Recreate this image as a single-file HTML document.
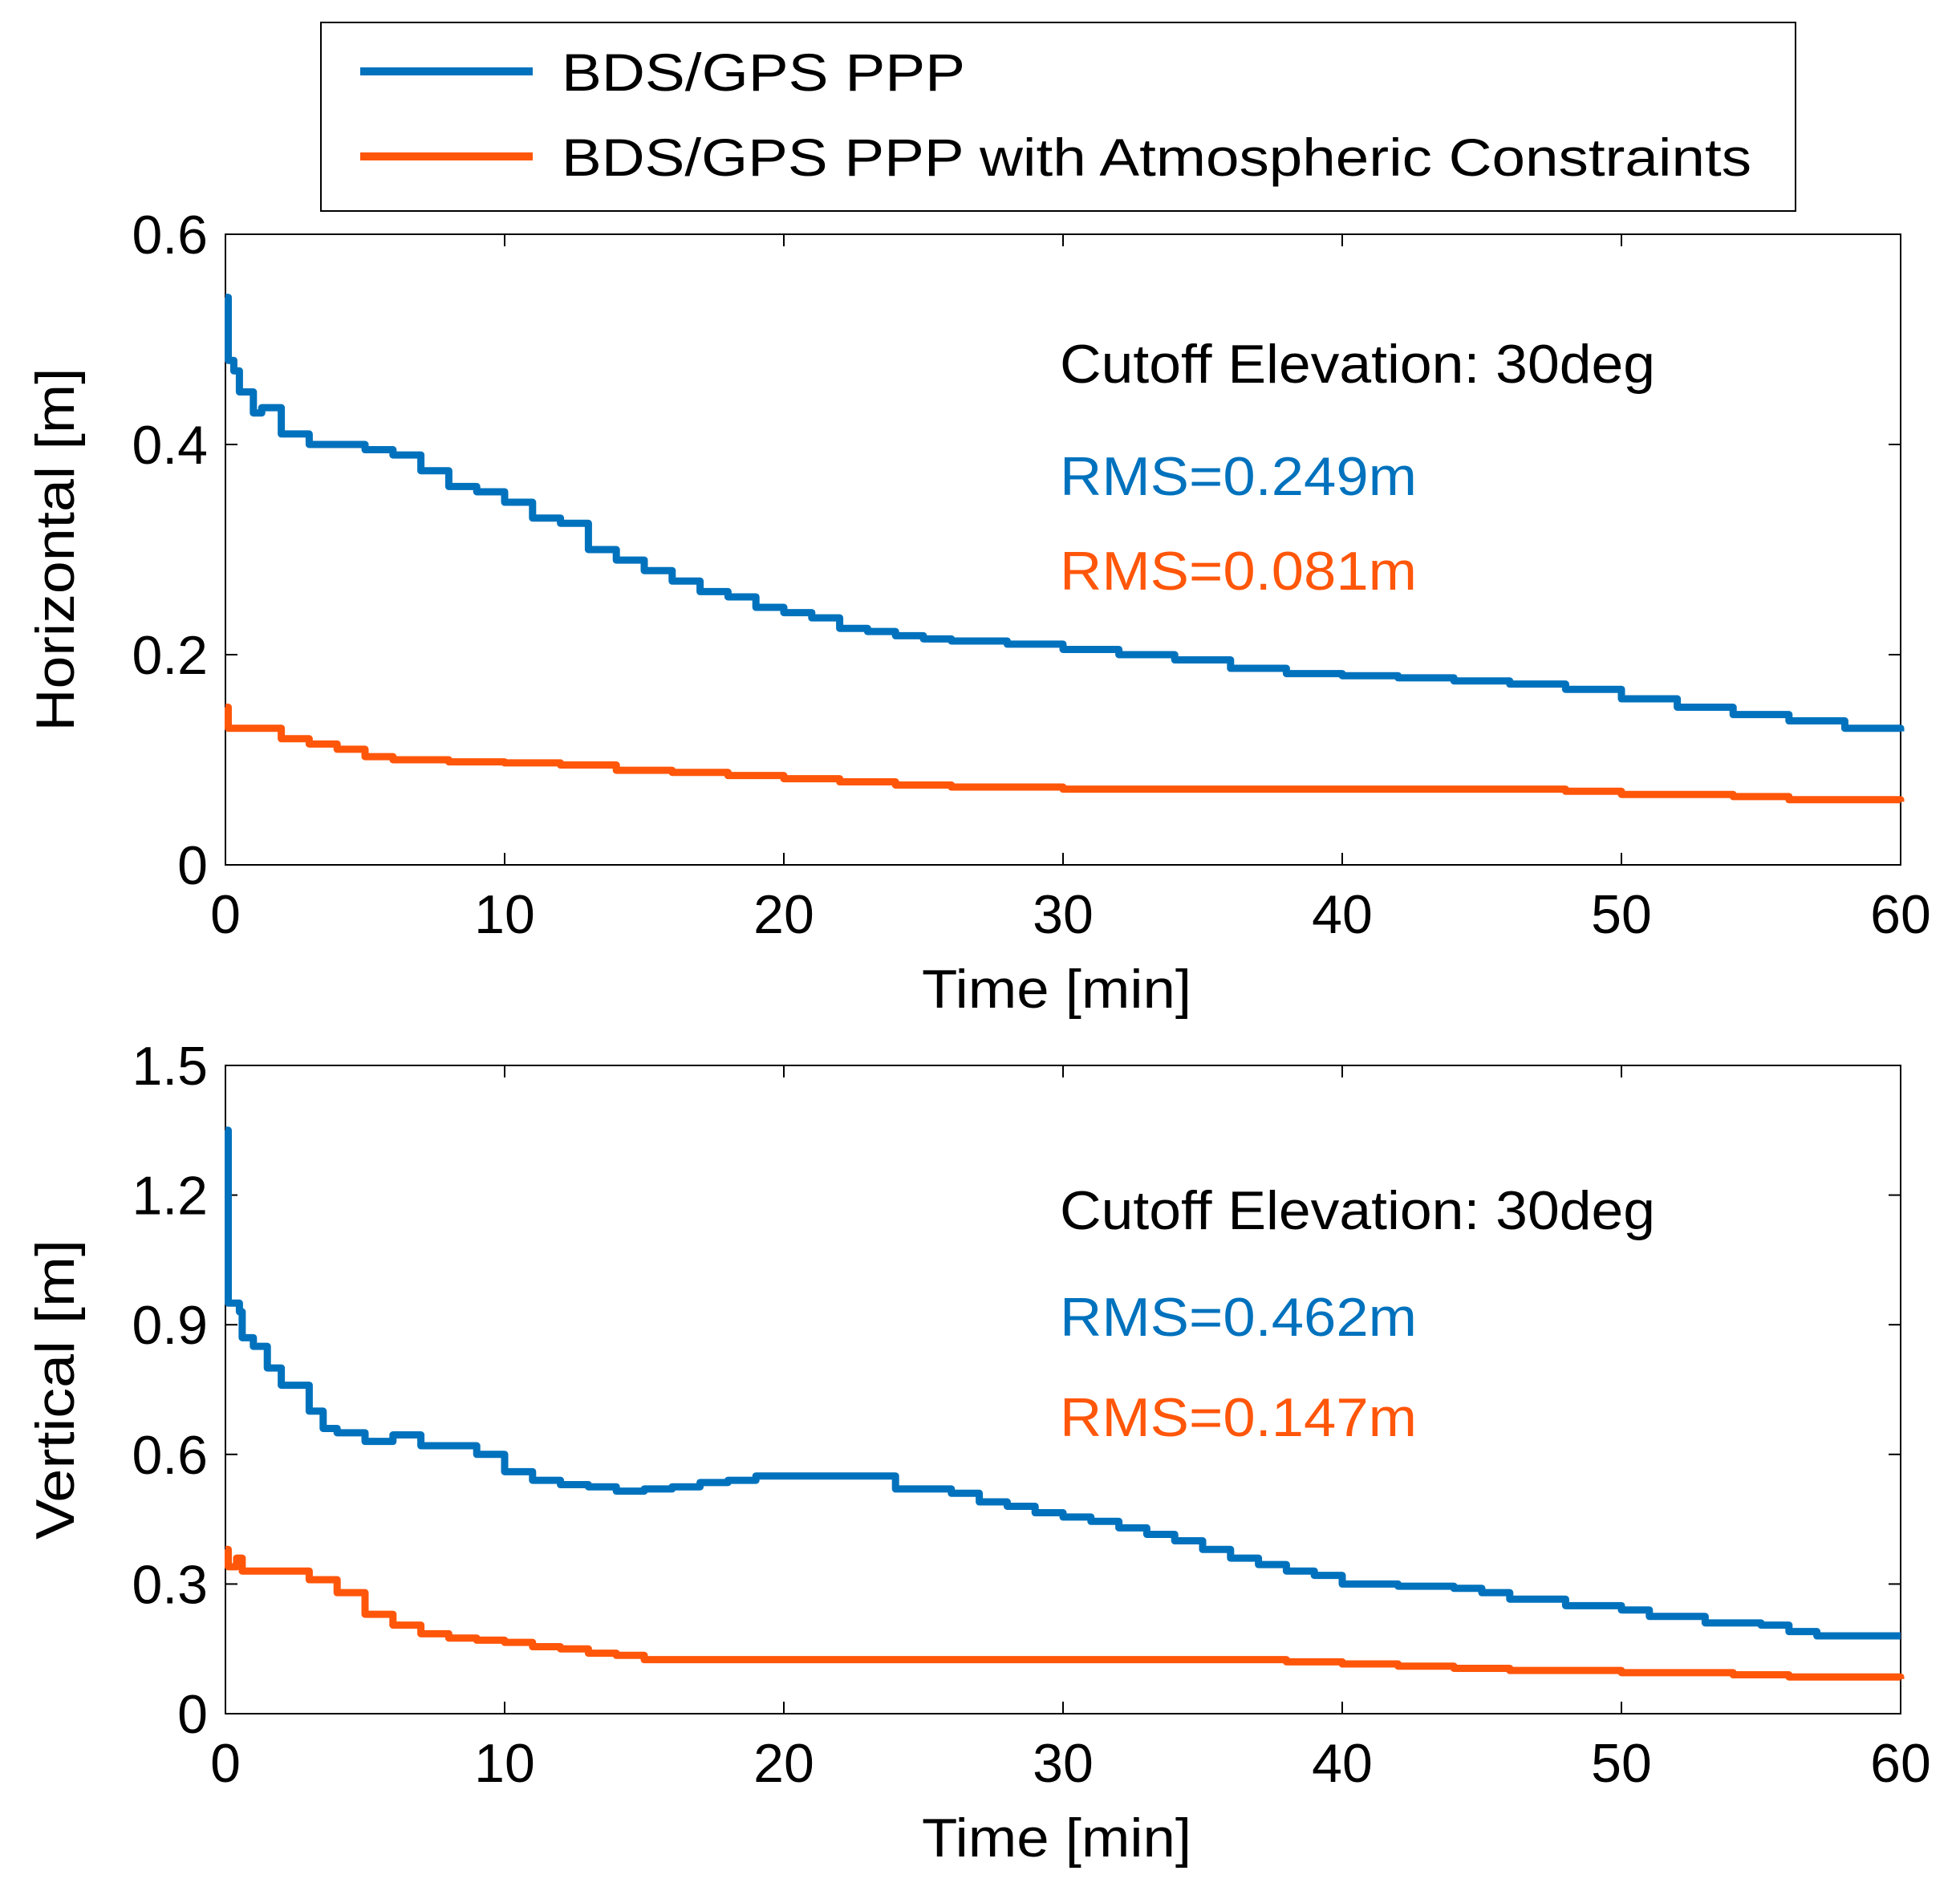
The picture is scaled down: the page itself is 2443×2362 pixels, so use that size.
<!DOCTYPE html>
<html><head><meta charset="utf-8"><style>
html,body{margin:0;padding:0;background:#fff}
svg{display:block;font-family:"Liberation Sans",Arial,sans-serif}
</style></head><body>
<svg id="fig" width="2443" height="2362" viewBox="0 0 2443 2362" xmlns="http://www.w3.org/2000/svg">
<g>
<rect x="400" y="28" width="1838" height="235" fill="#fff" stroke="#000" stroke-width="2"/>
<line x1="449" y1="89" x2="664" y2="89" stroke="#0072BD" stroke-width="10"/>
<text x="700" y="113" font-size="66" textLength="503" lengthAdjust="spacingAndGlyphs">BDS/GPS PPP</text>
<line x1="449" y1="195" x2="664" y2="195" stroke="#FF560A" stroke-width="10"/>
<text x="700" y="219" font-size="66" textLength="1483" lengthAdjust="spacingAndGlyphs">BDS/GPS PPP with Atmospheric Constraints</text>
</g>
<g id="p1"></g>
<g id="p2"></g>
</svg>
<script>
const xTicks=[0,10,20,30,40,50,60];
const hTicks=[0,0.2,0.4,0.6];
const hTickLabels=["0","0.2","0.4","0.6"];
const vTicks=[0,0.3,0.6,0.9,1.2,1.5];
const vTickLabels=["0","0.3","0.6","0.9","1.2","1.5"];
const hBlueT=[0,0.1,0.3,0.5,1,1.3,2,3,4,5,6,7,8,9,10,11,12,13,14,15,16,17,18,19,20,21,22,23,24,25,26,28,30,32,34,36,38,40,42,44,46,48,50,52,54,56,58,60];
const hBlueV=[0.54,0.48,0.47,0.45,0.43,0.435,0.41,0.40,0.40,0.395,0.39,0.375,0.36,0.355,0.345,0.33,0.325,0.30,0.29,0.28,0.27,0.26,0.255,0.245,0.24,0.235,0.225,0.222,0.218,0.215,0.213,0.21,0.205,0.2,0.195,0.187,0.182,0.18,0.178,0.175,0.172,0.167,0.158,0.15,0.143,0.137,0.13,0.127];
const hOrT=[0,0.1,1,2,3,4,5,6,8,10,12,14,16,18,20,22,24,26,30,40,48,50,54,56,60];
const hOrV=[0.15,0.13,0.13,0.12,0.115,0.11,0.103,0.1,0.098,0.097,0.095,0.09,0.088,0.085,0.082,0.079,0.076,0.074,0.072,0.072,0.07,0.067,0.065,0.062,0.06];
const vBlueT=[0,0.1,0.5,0.6,1,1.5,2,3,3.5,4,5,6,7,8,9,10,11,12,13,14,15,16,17,18,19,20,23,24,26,27,28,29,30,31,32,33,34,35,36,37,38,39,40,42,44,45,46,48,50,51,53,55,56,57,60];
const vBlueV=[1.35,0.95,0.93,0.87,0.85,0.8,0.76,0.7,0.66,0.65,0.63,0.645,0.62,0.62,0.6,0.56,0.54,0.53,0.525,0.515,0.52,0.525,0.535,0.54,0.55,0.55,0.55,0.52,0.51,0.49,0.48,0.465,0.455,0.445,0.43,0.415,0.40,0.38,0.36,0.345,0.33,0.32,0.3,0.295,0.29,0.28,0.265,0.25,0.24,0.225,0.21,0.205,0.19,0.18,0.18];
const vOrT=[0,0.1,0.4,0.6,2,3,4,5,6,7,8,9,10,11,12,13,14,15,20,30,36,38,40,42,44,46,50,54,56,59,60];
const vOrV=[0.38,0.34,0.36,0.33,0.33,0.31,0.28,0.23,0.205,0.185,0.175,0.17,0.165,0.155,0.15,0.14,0.135,0.125,0.125,0.125,0.125,0.12,0.115,0.11,0.105,0.1,0.095,0.09,0.085,0.085,0.08];
const NS="http://www.w3.org/2000/svg";
function mk(p,tag,at){const e=document.createElementNS(NS,tag);for(const k in at)e.setAttribute(k,at[k]);p.appendChild(e);return e;}
function panel(g,top,bot,yMax,yT,yL,yTitle,yTitleLen,series,texts){
 const L=281,R=2369;
 const sx=t=>L+(R-L)*t/60, sy=v=>bot-(bot-top)*v/yMax;
 let e=mk(g,'rect',{x:L,y:top,width:R-L,height:bot-top,fill:'none',stroke:'#000','stroke-width':2});
 
 
 xTicks.forEach(t=>{const x=sx(t);
  mk(g,'line',{x1:x,y1:bot,x2:x,y2:bot-15,stroke:'#000','stroke-width':2});
  mk(g,'line',{x1:x,y1:top,x2:x,y2:top+15,stroke:'#000','stroke-width':2});
  e=mk(g,'text',{x:x,y:bot+85,'font-size':68,'text-anchor':'middle'});e.textContent=t;
  
  });
 yT.forEach((v,i)=>{const y=sy(v);
  mk(g,'line',{x1:L,y1:y,x2:L+15,y2:y,stroke:'#000','stroke-width':2});
  mk(g,'line',{x1:R,y1:y,x2:R-15,y2:y,stroke:'#000','stroke-width':2});
  e=mk(g,'text',{x:259,y:y+24,'font-size':68,'text-anchor':'end'});e.textContent=yL[i];
  
  });
 e=mk(g,'text',{x:1149,y:bot+178,'font-size':68,textLength:336,lengthAdjust:'spacingAndGlyphs'});e.textContent='Time [min]';
 
 
 const cy=(top+bot)/2;
 e=mk(g,'text',{x:92,y:cy,'font-size':68,'text-anchor':'middle',textLength:yTitleLen,lengthAdjust:'spacingAndGlyphs',transform:`rotate(-90 92 ${cy})`});e.textContent=yTitle;
 
 
 series.forEach(s=>{let pts=[];
  for(let i=0;i<s.t.length;i++){ if(i>0) pts.push(sx(s.t[i])+','+sy(s.v[i-1])); pts.push(sx(s.t[i])+','+sy(s.v[i])); }
  e=mk(g,'polyline',{points:pts.join(' '),fill:'none',stroke:s.c,'stroke-width':9,'stroke-linejoin':'round'});
  
  });
 texts.forEach(tx=>{e=mk(g,'text',{x:1321,y:tx.y,'font-size':68,fill:tx.c,textLength:tx.w,lengthAdjust:'spacingAndGlyphs'});e.textContent=tx.s;
  
  });
}
panel(document.getElementById('p1'),292,1078,0.6,hTicks,hTickLabels,'Horizontal [m]',453,
 [{t:hBlueT,v:hBlueV,c:'#0072BD',n:'ppp-horizontal-line'},{t:hOrT,v:hOrV,c:'#FF560A',n:'constrained-horizontal-line'}],
 [{y:477,s:'Cutoff Elevation:  30deg',c:'#000',n:'cutoff-annotation',w:742},{y:617,s:'RMS=0.249m',c:'#0072BD',n:'rms-ppp',w:445},{y:735,s:'RMS=0.081m',c:'#FF560A',n:'rms-constrained',w:445}]);
panel(document.getElementById('p2'),1328,2136,1.5,vTicks,vTickLabels,'Vertical [m]',374,
 [{t:vBlueT,v:vBlueV,c:'#0072BD',n:'ppp-vertical-line'},{t:vOrT,v:vOrV,c:'#FF560A',n:'constrained-vertical-line'}],
 [{y:1532,s:'Cutoff Elevation:  30deg',c:'#000',n:'cutoff-annotation',w:742},{y:1665,s:'RMS=0.462m',c:'#0072BD',n:'rms-ppp',w:445},{y:1790,s:'RMS=0.147m',c:'#FF560A',n:'rms-constrained',w:445}]);
</script>
</body></html>
